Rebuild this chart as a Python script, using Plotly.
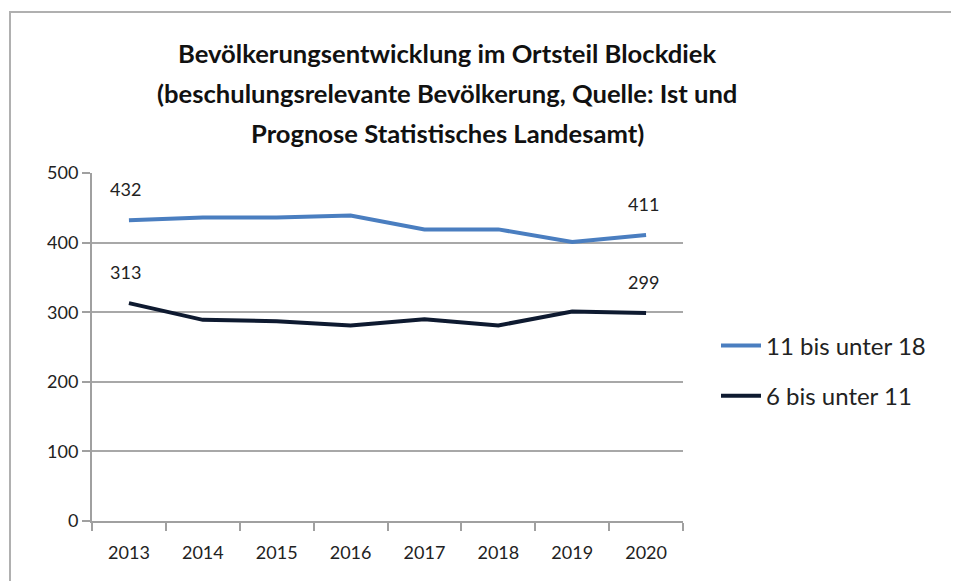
import plotly.graph_objects as go

years = ["2013", "2014", "2015", "2016", "2017", "2018", "2019", "2020"]
series_names = ["11 bis unter 18", "6 bis unter 11"]
values_11_18 = [432, 436, 436, 439, 419, 419, 401, 411]
values_6_11 = [313, 289, 287, 281, 290, 281, 301, 299]
title_lines = [
    "Bevölkerungsentwicklung im Ortsteil Blockdiek",
    "(beschulungsrelevante Bevölkerung, Quelle: Ist und",
    "Prognose Statistisches Landesamt)",
]
y_ticks = [0, 100, 200, 300, 400, 500]

OFF = 8  # page body margin
W, H = 959 - OFF, 581 - OFF
L, T = 92 - OFF, 173 - OFF
R = 959 - 683
B = 581 - 521
pw, ph = W - L - R, H - T - B

def px_x(p):
    return (p - OFF - L) / pw

def px_y(p):
    return (T + ph - (p - OFF)) / ph

FONT = "Lato"
colors = ["#4A7EC0", "#0E1A30"]

fig = go.Figure()
for name, vals, col in zip(series_names, [values_11_18, values_6_11], colors):
    fig.add_trace(go.Scatter(x=years, y=vals, mode="lines", name=name, legendgroup=name,
                             line=dict(color=col, width=4)))

annotations = []
for vals in [values_11_18, values_6_11]:
    for i in [0, len(years) - 1]:
        annotations.append(dict(x=i, y=vals[i], text=str(vals[i]), showarrow=False,
                                yshift=31, xshift=-3, font=dict(family=FONT, size=18, color="#222")))
for k, line in enumerate(title_lines):
    annotations.append(dict(xref="paper", yref="paper", x=px_x(447), y=px_y(53 + 40 * k),
                            text="<b>" + line + "</b>", showarrow=False, xanchor="center",
                            yanchor="middle", font=dict(family=FONT, size=25.6, color="#111")))

fig.update_layout(
    width=W, height=H,
    margin=dict(l=L, r=R, t=T, b=B, pad=0),
    paper_bgcolor="white", plot_bgcolor="white",
    showlegend=True,
    legend=dict(x=px_x(716), y=px_y(371), xanchor="left", yanchor="middle",
                font=dict(family=FONT, size=24, color="#222"), traceorder="grouped",
                tracegroupgap=16, itemwidth=40, bgcolor="rgba(0,0,0,0)"),
    annotations=annotations,
    xaxis=dict(type="category", showgrid=False, showline=True, linecolor="#A0A0A0", linewidth=2,
               ticks="outside", ticklen=8, tickcolor="#A0A0A0", tickwidth=2, tickson="boundaries",
               ticklabelstandoff=14,
               tickfont=dict(family=FONT, size=18, color="#222"), range=[-0.5, 7.5], fixedrange=True),
    yaxis=dict(range=[0, 500], tickvals=y_ticks, showgrid=True, gridcolor="#A8A8A8", gridwidth=2,
               showline=True, linecolor="#A0A0A0", linewidth=2, ticks="outside", ticklen=8,
               tickcolor="#A0A0A0", tickwidth=2, zeroline=False,
               tickfont=dict(family=FONT, size=18, color="#222")),
    shapes=[dict(type="rect", xref="paper", yref="paper", x0=px_x(10), x1=px_x(990),
                 y0=px_y(620), y1=px_y(12), line=dict(color="#B0B0B0", width=2), layer="below")],
)
fig.write_html("out.html")
